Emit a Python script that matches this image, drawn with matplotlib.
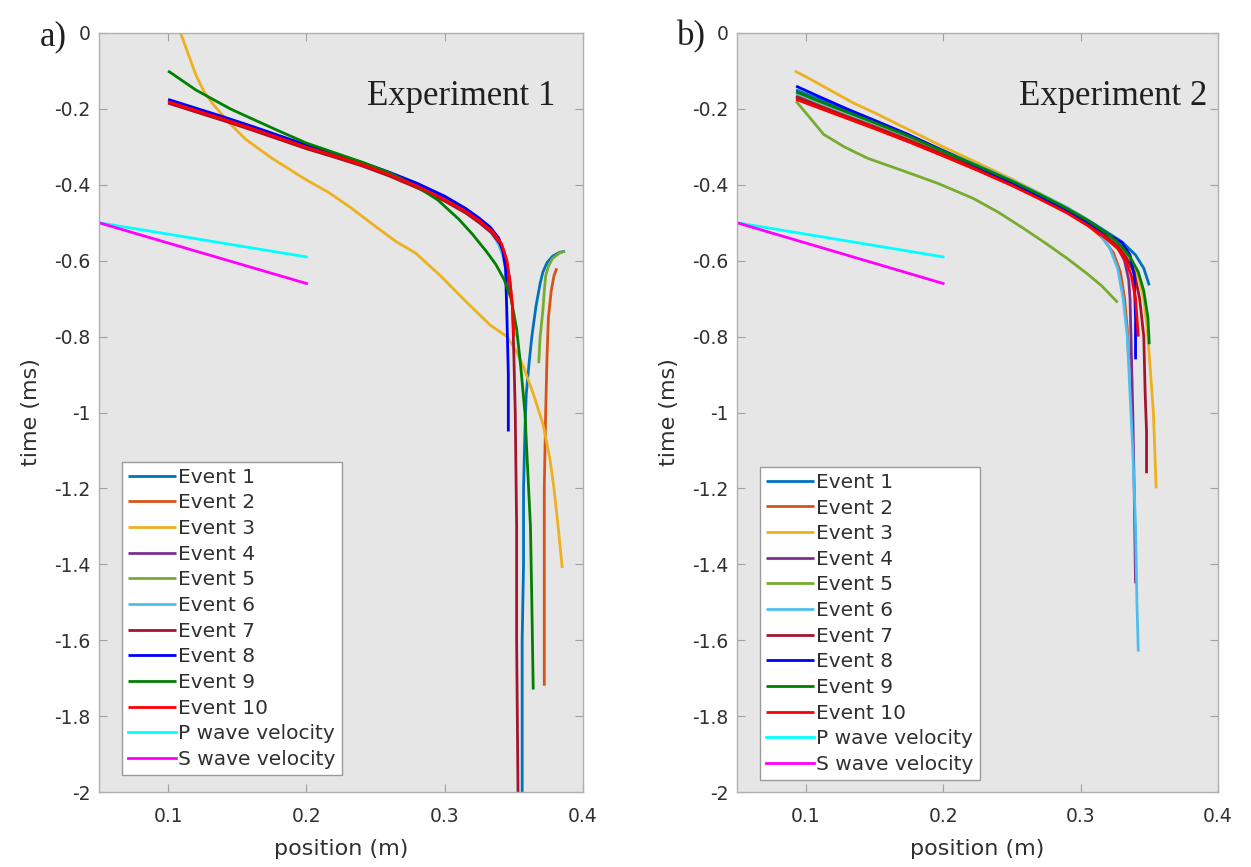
import matplotlib
matplotlib.use("Agg")
import matplotlib.pyplot as plt

# ---------------- data ----------------
x_ticks = [0.1, 0.2, 0.3, 0.4]
x_tick_labels = ["0.1", "0.2", "0.3", "0.4"]
y_ticks = [0, -0.2, -0.4, -0.6, -0.8, -1.0, -1.2, -1.4, -1.6, -1.8, -2.0]
y_tick_labels = ["0", "-0.2", "-0.4", "-0.6", "-0.8", "-1", "-1.2", "-1.4", "-1.6", "-1.8", "-2"]

labels = ["Event 1", "Event 2", "Event 3", "Event 4", "Event 5", "Event 6",
          "Event 7", "Event 8", "Event 9", "Event 10", "P wave velocity", "S wave velocity"]
colors = ["#0072BD", "#D95319", "#EDB120", "#7E2F8E", "#77AC30", "#4DBEEE",
          "#A2142F", "#0000FF", "#008000", "#FF0000", "#00FFFF", "#FF00FF"]

p_wave = [(0.05, -0.50), (0.20, -0.59)]
s_wave = [(0.05, -0.50), (0.20, -0.66)]

# Experiment 1 (panel a): (position m, time ms)
a_ev1 = [(0.387, -0.575), (0.383, -0.578), (0.378, -0.588), (0.374, -0.605), (0.371, -0.63),
         (0.369, -0.66), (0.366, -0.72), (0.363, -0.80), (0.361, -0.87), (0.359, -0.95),
         (0.358, -1.05), (0.357, -1.20), (0.357, -1.40), (0.356, -1.60), (0.356, -1.80), (0.356, -2.00)]
a_ev2 = [(0.381, -0.62), (0.379, -0.64), (0.377, -0.68), (0.375, -0.75), (0.374, -0.85),
         (0.373, -1.00), (0.372, -1.20), (0.372, -1.40), (0.372, -1.60), (0.372, -1.72)]
a_ev3 = [(0.109, 0.0), (0.115, -0.06), (0.120, -0.11), (0.126, -0.155), (0.133, -0.19),
         (0.145, -0.24), (0.156, -0.28), (0.175, -0.33), (0.199, -0.385), (0.216, -0.42),
         (0.232, -0.46), (0.250, -0.51), (0.265, -0.55), (0.279, -0.58), (0.297, -0.64),
         (0.316, -0.71), (0.333, -0.77), (0.345, -0.80), (0.352, -0.84), (0.357, -0.88),
         (0.364, -0.95), (0.371, -1.03), (0.376, -1.12), (0.379, -1.20), (0.382, -1.30),
         (0.385, -1.41)]
a_ev4 = [(0.100, -0.178), (0.120, -0.201), (0.140, -0.224), (0.160, -0.248), (0.180, -0.273),
         (0.200, -0.298), (0.220, -0.320), (0.240, -0.343), (0.260, -0.370), (0.280, -0.400),
         (0.300, -0.435), (0.315, -0.466), (0.325, -0.492), (0.333, -0.517), (0.339, -0.543),
         (0.343, -0.575), (0.345, -0.61), (0.346, -0.65), (0.347, -0.68)]
a_ev5 = [(0.387, -0.575), (0.383, -0.58), (0.378, -0.594), (0.375, -0.615), (0.373, -0.64),
         (0.372, -0.68), (0.371, -0.73), (0.369, -0.80), (0.368, -0.87)]
a_ev6 = [(0.100, -0.183), (0.120, -0.206), (0.140, -0.229), (0.160, -0.253), (0.180, -0.278),
         (0.200, -0.303), (0.220, -0.325), (0.240, -0.348), (0.260, -0.375), (0.280, -0.405),
         (0.300, -0.440), (0.315, -0.471), (0.325, -0.498), (0.333, -0.523), (0.338, -0.55),
         (0.342, -0.585), (0.344, -0.62), (0.345, -0.64)]
a_ev7 = [(0.100, -0.185), (0.120, -0.208), (0.140, -0.231), (0.160, -0.255), (0.180, -0.280),
         (0.200, -0.305), (0.220, -0.327), (0.240, -0.350), (0.260, -0.377), (0.280, -0.408),
         (0.300, -0.443), (0.315, -0.474), (0.325, -0.500), (0.334, -0.527), (0.340, -0.556),
         (0.344, -0.59), (0.347, -0.65), (0.349, -0.72), (0.350, -0.85), (0.351, -1.00),
         (0.352, -1.30), (0.352, -1.60), (0.353, -2.00)]
a_ev8 = [(0.100, -0.175), (0.120, -0.198), (0.140, -0.221), (0.160, -0.245), (0.180, -0.270),
         (0.200, -0.295), (0.220, -0.318), (0.240, -0.341), (0.260, -0.367), (0.280, -0.396),
         (0.300, -0.430), (0.315, -0.462), (0.325, -0.488), (0.333, -0.512), (0.339, -0.540),
         (0.342, -0.575), (0.344, -0.62), (0.345, -0.75), (0.346, -0.90), (0.346, -1.05)]
a_ev9 = [(0.100, -0.100), (0.110, -0.125), (0.120, -0.150), (0.130, -0.170), (0.145, -0.200),
         (0.160, -0.225), (0.180, -0.258), (0.200, -0.290), (0.220, -0.315), (0.240, -0.340),
         (0.260, -0.368), (0.280, -0.405), (0.295, -0.440), (0.310, -0.490), (0.320, -0.530),
         (0.330, -0.575), (0.337, -0.610), (0.343, -0.650), (0.348, -0.700), (0.352, -0.780),
         (0.355, -0.880), (0.358, -1.000), (0.360, -1.150), (0.362, -1.300), (0.363, -1.500),
         (0.364, -1.730)]
a_ev10 = [(0.100, -0.181), (0.120, -0.204), (0.140, -0.227), (0.160, -0.251), (0.180, -0.276),
          (0.200, -0.301), (0.220, -0.323), (0.240, -0.346), (0.260, -0.373), (0.280, -0.404),
          (0.300, -0.439), (0.315, -0.470), (0.326, -0.497), (0.335, -0.525), (0.341, -0.555),
          (0.345, -0.60), (0.347, -0.65), (0.349, -0.72), (0.350, -0.80)]

# Experiment 2 (panel b)
b_ev1 = [(0.093, -0.150), (0.110, -0.175), (0.130, -0.205), (0.150, -0.233), (0.175, -0.270),
         (0.200, -0.310), (0.225, -0.348), (0.250, -0.390), (0.270, -0.424), (0.290, -0.460),
         (0.305, -0.492), (0.318, -0.522), (0.330, -0.550), (0.340, -0.585), (0.346, -0.620),
         (0.350, -0.665)]
b_ev2 = [(0.093, -0.165), (0.110, -0.190), (0.130, -0.218), (0.150, -0.245), (0.175, -0.280),
         (0.200, -0.318), (0.225, -0.357), (0.250, -0.397), (0.270, -0.432), (0.290, -0.470),
         (0.305, -0.505), (0.316, -0.540), (0.324, -0.580), (0.329, -0.630), (0.332, -0.700),
         (0.334, -0.780), (0.335, -0.860)]
b_ev3 = [(0.092, -0.100), (0.100, -0.115), (0.110, -0.135), (0.120, -0.155), (0.135, -0.185),
         (0.150, -0.210), (0.175, -0.255), (0.200, -0.300), (0.225, -0.342), (0.250, -0.385),
         (0.270, -0.422), (0.290, -0.460), (0.305, -0.495), (0.318, -0.528), (0.328, -0.560),
         (0.336, -0.595), (0.342, -0.640), (0.346, -0.700), (0.349, -0.800), (0.351, -0.900),
         (0.353, -1.000), (0.354, -1.100), (0.355, -1.200)]
b_ev4 = [(0.093, -0.170), (0.110, -0.195), (0.130, -0.223), (0.150, -0.250), (0.175, -0.285),
         (0.200, -0.322), (0.225, -0.360), (0.250, -0.400), (0.270, -0.435), (0.290, -0.472),
         (0.305, -0.505), (0.318, -0.537), (0.327, -0.565), (0.332, -0.600), (0.335, -0.650),
         (0.336, -0.700), (0.337, -0.850), (0.338, -1.000), (0.339, -1.200), (0.340, -1.450)]
b_ev5 = [(0.093, -0.180), (0.100, -0.210), (0.113, -0.267), (0.128, -0.300), (0.145, -0.330),
         (0.170, -0.362), (0.196, -0.396), (0.222, -0.436), (0.240, -0.472), (0.259, -0.516),
         (0.275, -0.555), (0.291, -0.596), (0.305, -0.635), (0.315, -0.665), (0.327, -0.710)]
b_ev6 = [(0.093, -0.158), (0.110, -0.183), (0.130, -0.211), (0.150, -0.238), (0.175, -0.273),
         (0.200, -0.310), (0.225, -0.348), (0.250, -0.388), (0.270, -0.423), (0.290, -0.460),
         (0.302, -0.490), (0.313, -0.525), (0.321, -0.565), (0.327, -0.620), (0.331, -0.700),
         (0.334, -0.800), (0.336, -0.950), (0.338, -1.100), (0.340, -1.300), (0.341, -1.500),
         (0.342, -1.630)]
b_ev7 = [(0.093, -0.168), (0.110, -0.193), (0.130, -0.221), (0.150, -0.248), (0.175, -0.283),
         (0.200, -0.320), (0.225, -0.358), (0.250, -0.398), (0.270, -0.433), (0.290, -0.470),
         (0.305, -0.503), (0.318, -0.535), (0.327, -0.562), (0.333, -0.590), (0.339, -0.630),
         (0.343, -0.700), (0.346, -0.800), (0.347, -0.950), (0.348, -1.050), (0.348, -1.160)]
b_ev8 = [(0.093, -0.140), (0.110, -0.168), (0.130, -0.200), (0.150, -0.230), (0.175, -0.268),
         (0.200, -0.310), (0.225, -0.352), (0.250, -0.394), (0.270, -0.430), (0.290, -0.466),
         (0.305, -0.498), (0.318, -0.527), (0.330, -0.552), (0.336, -0.585), (0.339, -0.640),
         (0.340, -0.750), (0.340, -0.860)]
b_ev9 = [(0.093, -0.155), (0.110, -0.180), (0.130, -0.208), (0.150, -0.236), (0.175, -0.272),
         (0.200, -0.312), (0.225, -0.350), (0.250, -0.390), (0.270, -0.425), (0.290, -0.462),
         (0.305, -0.494), (0.318, -0.525), (0.328, -0.555), (0.336, -0.590), (0.342, -0.630),
         (0.346, -0.680), (0.349, -0.750), (0.350, -0.820)]
b_ev10 = [(0.093, -0.175), (0.110, -0.198), (0.130, -0.225), (0.150, -0.252), (0.175, -0.287),
          (0.200, -0.324), (0.225, -0.362), (0.250, -0.402), (0.270, -0.437), (0.290, -0.474),
          (0.305, -0.507), (0.318, -0.540), (0.327, -0.568), (0.333, -0.600), (0.337, -0.640),
          (0.340, -0.700), (0.341, -0.750), (0.342, -0.800)]

exp1_events = [a_ev1, a_ev2, a_ev3, a_ev4, a_ev5, a_ev6, a_ev7, a_ev8, a_ev9, a_ev10]
exp2_events = [b_ev1, b_ev2, b_ev3, b_ev4, b_ev5, b_ev6, b_ev7, b_ev8, b_ev9, b_ev10]

# ---------------- drawing ----------------
plt.rcParams["font.family"] = ["DejaVu Sans"]
W, H = 1251, 867
fig = plt.figure(figsize=(W / 100, H / 100), dpi=100)
fig.patch.set_facecolor("white")

ax_a = fig.add_axes([99 / W, (H - 792) / H, 484 / W, 759 / H])
ax_b = fig.add_axes([737 / W, (H - 792) / H, 481 / W, 759 / H])

def draw(ax, events, title, title_x, leg_anchor, w_px):
    ax.set_facecolor("#e6e6e6")
    handles = []
    for ev, c, lab in zip(events, colors[:10], labels[:10]):
        xs = [p[0] for p in ev]
        ys = [p[1] for p in ev]
        h, = ax.plot(xs, ys, color=c, lw=2.0, label=lab, solid_capstyle="butt")
        handles.append(h)
    for ln, c, lab in ((p_wave, colors[10], labels[10]), (s_wave, colors[11], labels[11])):
        h, = ax.plot([p[0] for p in ln], [p[1] for p in ln], color=c, lw=2.0, label=lab)
        handles.append(h)
    ax.set_xlim(0.05, 0.4)
    ax.set_ylim(-2, 0)
    ax.set_xticks(x_ticks)
    ax.set_xticklabels(x_tick_labels)
    ax.set_yticks(y_ticks)
    ax.set_yticklabels(y_tick_labels)
    ax.tick_params(direction="in", length=6, width=0.8, color="#a0a0a0",
                   labelsize=13.5, labelcolor="#303030", top=True, right=True)
    ax.tick_params(axis="x", pad=11)
    ax.tick_params(axis="y", pad=6)
    for s in ax.spines.values():
        s.set_color("#b0b0b0")
        s.set_linewidth(1.0)
    ax.set_xlabel("position (m)", fontsize=16, color="#303030", va="center")
    ax.set_ylabel("time (ms)", fontsize=16, color="#303030", va="center")
    ax.xaxis.set_label_coords(0.5, -(849 - 792) / 759)
    ax.yaxis.set_label_coords(-68 / w_px, 0.5)
    ax.text(title_x, 0.905, title, transform=ax.transAxes, ha="right", va="baseline",
            fontsize=25, family="Liberation Serif", color="#202020")
    leg = ax.legend(handles=handles, loc="lower left", bbox_to_anchor=leg_anchor,
                    fontsize=14.5, frameon=True, fancybox=False, framealpha=1,
                    edgecolor="#9a9a9a", facecolor="white", handlelength=2.4,
                    handletextpad=0.1, labelspacing=0.33, borderpad=0.3,
                    borderaxespad=0.0)
    leg.get_frame().set_linewidth(1.0)
    for t in leg.get_texts():
        t.set_color("#303030")

draw(ax_a, exp1_events, "Experiment 1", (555 - 99) / 484,
     ((122 - 99) / 484, (792 - 775) / 759), 484)
draw(ax_b, exp2_events, "Experiment 2", (1207 - 737) / 481,
     ((760 - 737) / 481, (792 - 780) / 759), 481)

fig.text(40 / W, (H - 45) / H, "a)", fontsize=25, family="Liberation Serif",
         ha="left", va="baseline", color="#202020")
fig.text(677 / W, (H - 45) / H, "b)", fontsize=25, family="Liberation Serif",
         ha="left", va="baseline", color="#202020")

fig.savefig("out.png", dpi=100)
